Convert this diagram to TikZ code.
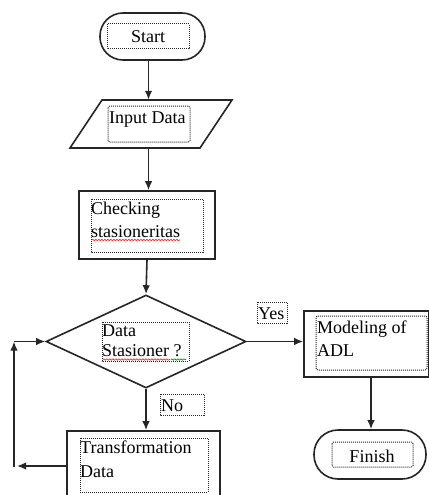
\documentclass[tikz,border=0pt]{standalone}
\usepackage{fontspec}
\setmainfont{Liberation Serif}
\usetikzlibrary{shapes.geometric,arrows.meta,decorations.pathmorphing,calc}
\begin{document}
\begin{tikzpicture}[x=1pt,y=-1pt,
  outer/.style={draw=black!85, line width=1.6pt},
  dotbox/.style={draw=black!85, dash pattern=on 1pt off 1pt, line width=1pt},
  lbl/.style={font=\fontsize{18}{23}\selectfont, inner sep=0pt, align=left, text=black},
  arr/.style={draw=black!85, line width=1.6pt, -{Latex[length=9pt,width=7.5pt]}},
  squig/.style={decorate, decoration={snake, amplitude=0.7pt, segment length=3pt}, line width=0.7pt}
]
\useasboundingbox (0,0) rectangle (430,495);
\clip (0,0) rectangle (430,495);
\fill[white] (0,0) rectangle (430,495);

% ---- shapes ----
\node[outer, rounded corners=23pt, minimum width=105pt, minimum height=47pt, inner sep=0pt] (start) at (152.5,36.5) {};
\draw[dotbox] (107,24) rectangle (189,49);
\node[lbl, anchor=base] (tstart) at (148,43) {Start};

\node[inner sep=0pt, minimum width=162pt, minimum height=48pt] (input) at (151,124) {};
\draw[outer] (102,100) -- (232,100) -- (200,148) -- (70,148) -- cycle;
\draw[dotbox, rounded corners=1.5pt] (108,106) rectangle (190,142);
\node[lbl, anchor=base west] (tinput) at (109,123) {Input Data};

\node[outer, minimum width=136pt, minimum height=68pt, inner sep=0pt] (chk) at (147,225) {};
\draw[dotbox] (91,199) rectangle (203,252);
\node[lbl, anchor=north west] (tchk) at (91,201.7) {Checking\\stasioneritas};

\node[outer, shape=diamond, inner sep=0pt, minimum width=200pt, minimum height=93pt] (dia) at (146,341.5) {};
\draw[dotbox] (102,322) rectangle (189,361);
\node[lbl, anchor=north west, font=\fontsize{18}{20}\selectfont] (tdia) at (102,324.7) {Data\\Stasioner ?};

\draw[dotbox] (257,302) rectangle (287,323);
\node[lbl, anchor=base west] (tyes) at (258,319) {Yes};

\node[outer, minimum width=124.5pt, minimum height=66pt, inner sep=0pt] (model) at (366.25,344) {};
\draw[dotbox, rounded corners=2pt] (316,316) rectangle (427,370);
\node[lbl, anchor=north west] (tmodel) at (317,320.7) {Modeling of\\ADL};

\node[outer, rounded corners=24pt, minimum width=112pt, minimum height=49pt, inner sep=0pt] (fin) at (370,454.5) {};
\draw[dotbox, rounded corners=1.5pt] (332,442) rectangle (413,467);
\node[lbl, anchor=base] (tfin) at (372,462) {Finish};

\draw[dotbox] (160,394) rectangle (204,415);
\node[lbl, anchor=base west] (tno) at (161,411) {No};

\node[outer, minimum width=153pt, minimum height=80pt, inner sep=0pt] (trans) at (143.5,471) {};
\draw[dotbox] (80,438) rectangle (208,492);
\node[lbl, anchor=north west, font=\fontsize{18}{24}\selectfont] (ttrans) at (80,440.7) {Transformation\\Data};

% ---- spell-check squiggles ----
\draw[squig, red!85] (92,240) -- (180,240);
\draw[squig, red!85] (103,359.5) -- (170,359.5);
\draw[squig, green!60!black] (171,359.5) -- (186,359.5);

% ---- connectors ----
\coordinate (sp1) at (148.5,0);
\coordinate (sp2) at (371,0);
\coordinate (loopb) at (14,466);
\coordinate (loopbr) at (17,466);
\coordinate (loopt) at (14,341.5);

\draw[arr] (start.south -| sp1) -- (input.north -| sp1);
\draw[arr] (input.south -| sp1) -- (chk.north -| sp1);
\draw[arr] (chk.south) -- (dia.north);
\draw[arr] (dia.east) -- (model.west |- dia.east);
\draw[arr] (model.south -| sp2) -- (fin.north -| sp2);
\draw[arr] (dia.south) -- (dia.south |- trans.north);
\draw[arr] (trans.west |- loopbr) -- (loopbr);
\draw[arr] ($(loopb)+(0,1)$) -- (loopt);
\draw[arr] (loopt) -- (dia.west);
\end{tikzpicture}
\end{document}
